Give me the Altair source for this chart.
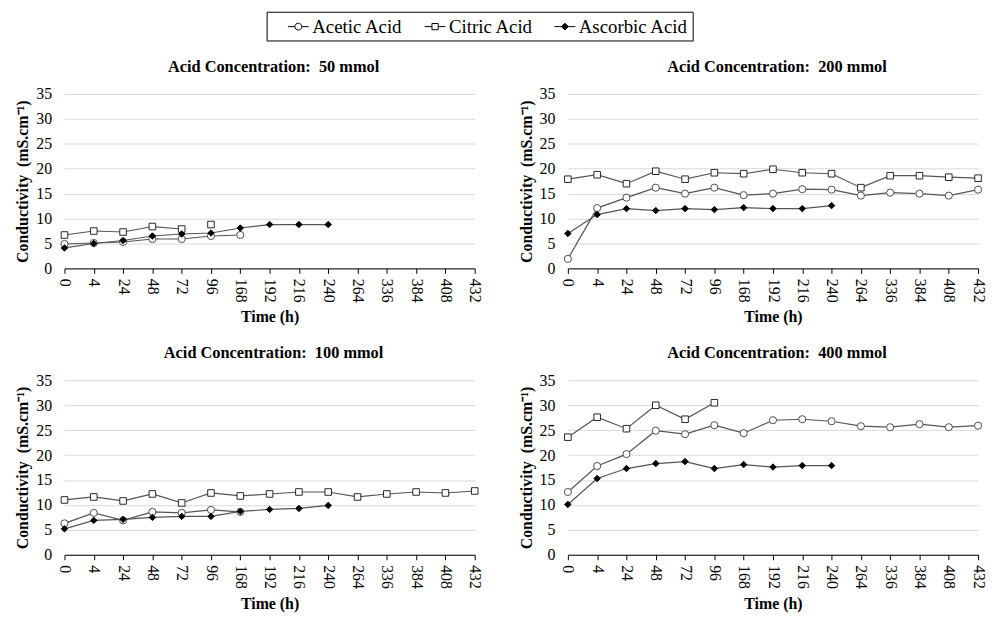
import altair as alt
import pandas as pd

# ---------------- data ----------------
TIME_LABELS = ["0", "4", "24", "48", "72", "96", "168", "192", "216",
               "240", "264", "336", "384", "408", "432"]
ACIDS = ["Acetic Acid", "Citric Acid", "Ascorbic Acid"]

# 50 mmol
acetic_50 = [4.9, 5.1, 5.3, 5.9, 5.9, 6.5, 6.7]
citric_50 = [6.7, 7.5, 7.3, 8.4, 7.9, 8.8]
ascorbic_50 = [4.1, 5.0, 5.6, 6.5, 6.9, 7.1, 8.1, 8.8, 8.8, 8.8]
# in the reference the citric 50 mmol line is not drawn into this point
citric_50_break_at = "96"

# 200 mmol
acetic_200 = [1.9, 12.1, 14.2, 16.2, 15.0, 16.2, 14.7, 15.0, 15.9, 15.8,
              14.6, 15.2, 15.0, 14.6, 15.8]
citric_200 = [17.9, 18.8, 17.0, 19.5, 17.9, 19.2, 19.0, 19.9, 19.2, 19.0,
              16.2, 18.6, 18.6, 18.3, 18.1]
ascorbic_200 = [7.0, 10.8, 12.0, 11.6, 12.0, 11.8, 12.2, 12.0, 12.0, 12.6]

# 100 mmol
acetic_100 = [6.3, 8.4, 6.9, 8.6, 8.4, 9.0, 8.6]
citric_100 = [11.0, 11.6, 10.8, 12.2, 10.4, 12.4, 11.8, 12.2, 12.6, 12.6,
              11.6, 12.2, 12.6, 12.4, 12.8]
ascorbic_100 = [5.2, 6.9, 7.1, 7.5, 7.7, 7.7, 8.7, 9.1, 9.3, 9.9]

# 400 mmol
acetic_400 = [12.6, 17.8, 20.2, 24.9, 24.2, 26.0, 24.4, 27.0, 27.2, 26.8,
              25.8, 25.6, 26.2, 25.6, 25.9]
citric_400 = [23.6, 27.6, 25.3, 30.0, 27.2, 30.5]
ascorbic_400 = [10.1, 15.3, 17.3, 18.3, 18.7, 17.3, 18.1, 17.6, 17.9, 17.9]

PANELS = {
    "50": [acetic_50, citric_50, ascorbic_50],
    "200": [acetic_200, citric_200, ascorbic_200],
    "100": [acetic_100, citric_100, ascorbic_100],
    "400": [acetic_400, citric_400, ascorbic_400],
}

rows = []
for conc, series in PANELS.items():
    for acid, vals in zip(ACIDS, series):
        seg = 0
        for i, v in enumerate(vals):
            t = TIME_LABELS[i]
            if conc == "50" and acid == "Citric Acid" and t == citric_50_break_at:
                seg += 1
            rows.append({"conc": conc, "acid": acid, "time": t, "idx": i,
                         "value": v, "line_id": f"{acid}-{seg}"})
df = pd.DataFrame(rows)
legend_df = pd.DataFrame({"acid": ACIDS})

# ---------------- style ----------------
FONT = "Liberation Serif"
W, H = 414, 176
LINE_COLOR = "#555555"

# legend symbols: short line with marker in the middle (unit square paths)
LEGEND_PATHS = [
    "M-1,0L-0.33,0M0.33,0L1,0M-0.33,0A0.33,0.33,0,1,1,0.33,0A0.33,0.33,0,1,1,-0.33,0Z",
    "M-1,0L-0.3,0M0.3,0L1,0M-0.3,-0.3L0.3,-0.3L0.3,0.3L-0.3,0.3Z",
    "M-1,0L-0.33,0M0.33,0L1,0M0,-0.33L0.33,0L0,0.33L-0.33,0Z",
]
MARKERS = {
    "Acetic Acid": dict(shape="circle", size=52, fill="white", stroke="#4d4d4d"),
    "Citric Acid": dict(shape="square", size=44, fill="white", stroke="#262626"),
    "Ascorbic Acid": dict(shape="diamond", size=42, fill="black", stroke="black"),
}


def panel(conc, with_legend=False):
    base = alt.Chart(df).transform_filter(alt.datum.conc == conc)
    x = alt.X("time:O",
              scale=alt.Scale(type="point", domain=TIME_LABELS, padding=0),
              axis=alt.Axis(labelAngle=90, tickSize=5, tickColor="black",
                            domainColor="black", grid=False, labelPadding=5,
                            labelOverlap=False, titlePadding=7,
                            titleFontWeight="bold"),
              title="Time (h)")
    y = alt.Y("value:Q",
              scale=alt.Scale(domain=[0, 35]),
              axis=alt.Axis(values=list(range(0, 36, 5)), domain=False,
                            ticks=False, gridColor="#d9d9d9", labelPadding=13,
                            titlePadding=5, titleFontWeight="bold"),
              title="Conductivity\u00a0 (mS.cm\u207b\u00b9)")
    lines = base.mark_line(color=LINE_COLOR, strokeWidth=1.2).encode(
        x=x, y=y, detail="line_id:N", order="idx:Q")
    layers = [lines]
    for acid in ACIDS:
        m = MARKERS[acid]
        layers.append(
            base.transform_filter(alt.datum.acid == acid)
            .mark_point(shape=m["shape"], size=m["size"], fill=m["fill"],
                        stroke=m["stroke"], strokeWidth=1, opacity=1,
                        filled=False)
            .encode(x=x, y=y)
        )
    if with_legend:
        leg = alt.Legend(orient="none", legendX=204, legendY=-83,
                         direction="horizontal", title=None,
                         strokeColor="black", padding=4, symbolOffset=17,
                         columnPadding=4, labelFont=FONT, labelFontSize=19,
                         labelColor="black", symbolSize=441,
                         symbolStrokeWidth=1, labelOffset=3)
        layers.append(
            alt.Chart(legend_df)
            .mark_point(clip=True, size=441, strokeWidth=1, opacity=1)
            .encode(
                x=alt.value(0), y=alt.value(-500),
                shape=alt.Shape("acid:N",
                                scale=alt.Scale(domain=ACIDS, range=LEGEND_PATHS),
                                legend=leg),
                fill=alt.Fill("acid:N",
                              scale=alt.Scale(domain=ACIDS,
                                              range=["white", "white", "black"]),
                              legend=leg),
                stroke=alt.Stroke("acid:N",
                                  scale=alt.Scale(domain=ACIDS,
                                                  range=["black", "black", "black"]),
                                  legend=leg),
            )
        )
    return alt.layer(*layers).properties(
        width=W, height=H,
        title=alt.Title(f"Acid Concentration:\u00a0 {conc} mmol", dx=4),
    )


top = alt.hconcat(panel("50", with_legend=True), panel("200"), spacing=36)
bottom = alt.hconcat(panel("100"), panel("400"), spacing=36)

chart = (
    alt.vconcat(top, bottom, spacing=20)
    .properties(padding={"left": 7, "top": 0, "right": 1, "bottom": 0})
    .configure_axis(labelFont=FONT, titleFont=FONT, labelFontSize=16,
                    titleFontSize=16, labelColor="black", titleColor="black")
    .configure_title(font=FONT, fontSize=16.5, fontWeight="bold",
                     color="black", anchor="middle", offset=11)
    .configure_view(stroke=None)
)

chart.save("out.html", embed_options={"renderer": "svg", "actions": False})
